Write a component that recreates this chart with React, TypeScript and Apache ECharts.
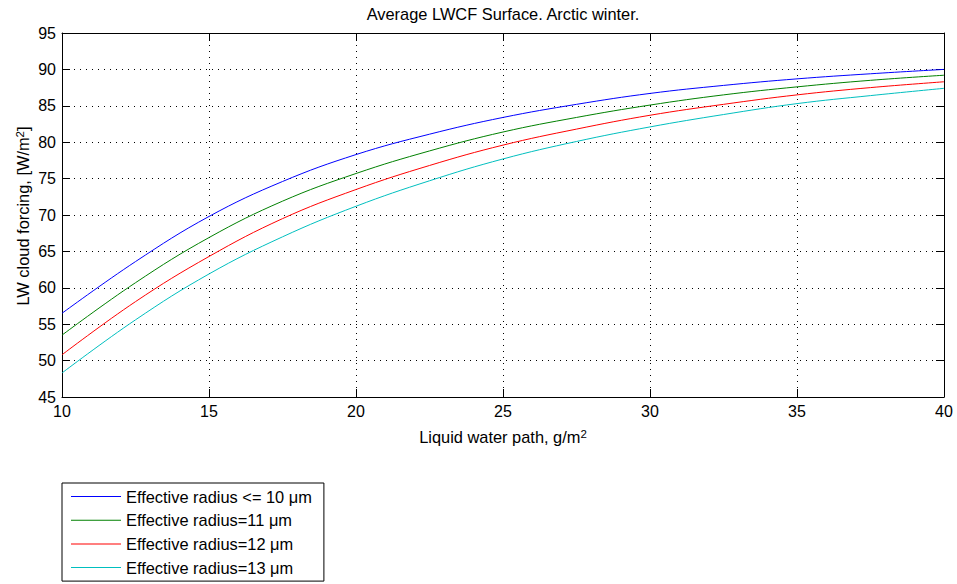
import React, { useEffect, useRef } from "react";
import * as echarts from "echarts";

const lwp = [10, 12.5, 15, 17.5, 20, 22.5, 25, 27.5, 30, 32.5, 35, 37.5, 40];
const r10 = [56.5, 63.6, 69.8, 74.6, 78.3, 81.1, 83.4, 85.2, 86.7, 87.8, 88.7, 89.4, 90.0];
const r11 = [53.5, 60.7, 66.9, 71.9, 75.7, 78.8, 81.4, 83.4, 85.1, 86.5, 87.6, 88.5, 89.2];
const r12 = [50.8, 58.1, 64.3, 69.5, 73.5, 76.8, 79.6, 81.8, 83.7, 85.2, 86.5, 87.5, 88.3];
const r13 = [48.3, 55.6, 61.9, 67.0, 71.2, 74.7, 77.7, 80.1, 82.1, 83.8, 85.3, 86.4, 87.4];

const seriesNames = [
  "Effective radius <= 10 \u03bcm",
  "Effective radius=11 \u03bcm",
  "Effective radius=12 \u03bcm",
  "Effective radius=13 \u03bcm",
];
const seriesValues = [r10, r11, r12, r13];
const seriesColors = ["#0000ff", "#008000", "#ff0000", "#00bfbf"];

const titleText = "Average LWCF Surface. Arctic winter.";
const xName = "Liquid water path, g/m";
const yName = "LW cloud forcing, [W/m";

const FONT = "'Liberation Sans', Arial, Helvetica, sans-serif";

export default function App() {
  const ref = useRef<HTMLDivElement>(null);
  useEffect(() => {
    if (!ref.current) return;
    const chart = echarts.init(ref.current, undefined, { renderer: "svg" });
    const gridLeft = 62;
    const gridTop = 33;
    const gridW = 882;
    const gridH = 364;
    const tickStyle = { show: true, inside: true, length: 8, lineStyle: { color: "#000", width: 1 } };
    const dotted = { show: true, lineStyle: { color: "#000", width: 1, type: [1, 5] as any } };
    const rich = {
      a: { fontSize: 16.4, fontFamily: FONT, fill: "#000", lineHeight: 18 },
      s: { fontSize: 11.5, fontFamily: FONT, fill: "#000", verticalAlign: "top", lineHeight: 18, padding: [0, 0, 8, 0] },
    };
    chart.setOption({
      animation: false,
      backgroundColor: "#fff",
      textStyle: { fontFamily: FONT },
      grid: { left: gridLeft, top: gridTop, width: gridW, height: gridH, show: false },
      xAxis: [
        {
          type: "value", min: 10, max: 40, interval: 5, position: "bottom",
          axisLine: { show: true, lineStyle: { color: "#000", width: 1 } },
          axisTick: tickStyle,
          axisLabel: { color: "#000", fontSize: 16, fontFamily: FONT, margin: 6 },
          splitLine: dotted,
        },
        {
          type: "value", min: 10, max: 40, interval: 5, position: "top",
          axisLine: { show: true, onZero: false, lineStyle: { color: "#000", width: 1 } },
          axisTick: tickStyle,
          axisLabel: { show: false },
          splitLine: { show: false },
        },
      ],
      yAxis: [
        {
          type: "value", min: 45, max: 95, interval: 5, position: "left",
          axisLine: { show: true, lineStyle: { color: "#000", width: 1 } },
          axisTick: tickStyle,
          axisLabel: { color: "#000", fontSize: 16, fontFamily: FONT, margin: 6 },
          splitLine: dotted,
        },
        {
          type: "value", min: 45, max: 95, interval: 5, position: "right",
          axisLine: { show: true, onZero: false, lineStyle: { color: "#000", width: 1 } },
          axisTick: tickStyle,
          axisLabel: { show: false },
          splitLine: { show: false },
        },
      ],
      legend: {
        orient: "vertical",
        left: 62,
        top: 483,
        padding: [5.5, 12, 5.5, 9],
        icon: "rect",
        itemWidth: 50,
        itemHeight: 1,
        itemGap: 7.7,
        borderColor: "#000",
        borderWidth: 1,
        backgroundColor: "#fff",
        textStyle: { fontSize: 16.4, lineHeight: 16, color: "#000", fontFamily: FONT },
        data: seriesNames,
      },
      series: seriesValues.map((vals, i) => ({
        name: seriesNames[i],
        type: "line",
        xAxisIndex: 0,
        yAxisIndex: 0,
        data: lwp.map((x, j) => [x, vals[j]]),
        smooth: 0.4,
        symbol: "none",
        showSymbol: false,
        color: seriesColors[i],
        itemStyle: { color: seriesColors[i] },
        lineStyle: { color: seriesColors[i], width: 1 },
      })),
      graphic: [
        {
          type: "text",
          x: gridLeft + gridW / 2,
          y: 14,
          style: {
            text: titleText,
            fontSize: 16.4,
            fontFamily: FONT,
            fill: "#000",
            align: "center",
            verticalAlign: "middle",
          },
        },
        {
          type: "text",
          x: gridLeft + gridW / 2,
          y: 437,
          style: {
            text: "{a|" + xName + "}{s|2}",
            fontFamily: FONT,
            fill: "#000",
            align: "center",
            verticalAlign: "middle",
            rich,
          },
        },
        {
          type: "text",
          x: 23,
          y: 216,
          rotation: Math.PI / 2,
          style: {
            text: "{a|" + yName + "}{s|2}{a|]}",
            fontFamily: FONT,
            fill: "#000",
            align: "center",
            verticalAlign: "middle",
            rich,
          },
        },
      ],
    });
    return () => chart.dispose();
  }, []);
  return (
    <div
      ref={ref}
      style={{ position: "fixed", left: 0, top: 0, width: 957, height: 584, background: "#fff" }}
    />
  );
}
